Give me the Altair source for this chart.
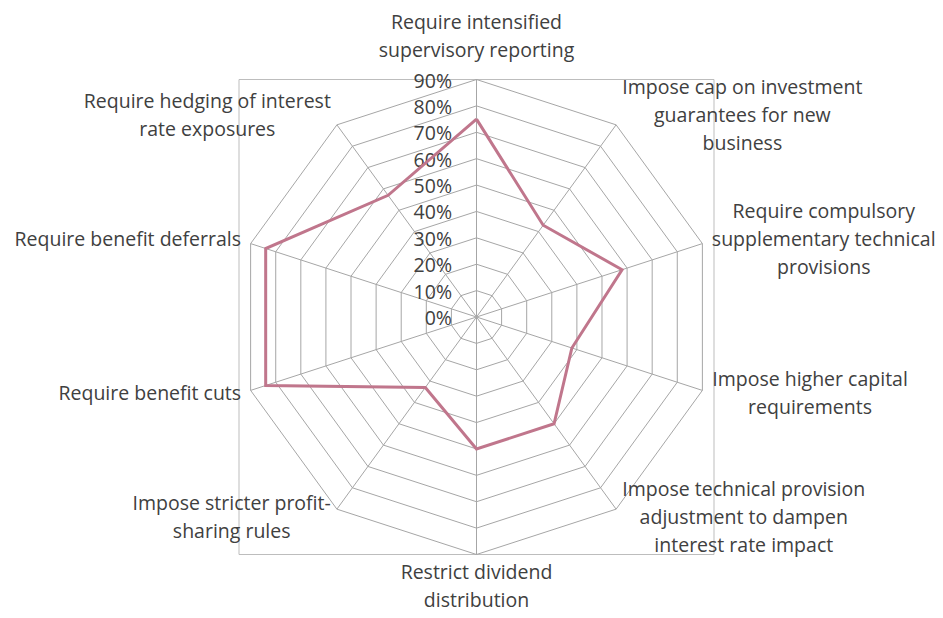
import altair as alt
import pandas as pd

# ---- data ----
categories = [
    "Require intensified\nsupervisory reporting",
    "Impose cap on investment\nguarantees for new\nbusiness",
    "Require compulsory\nsupplementary technical\nprovisions",
    "Impose higher capital\nrequirements",
    "Impose technical provision\nadjustment to dampen\ninterest rate impact",
    "Restrict dividend\ndistribution",
    "Impose stricter profit-\nsharing rules",
    "Require benefit cuts",
    "Require benefit deferrals",
    "Require hedging of interest\nrate exposures",
]
values = [75, 43, 58, 38, 50, 50, 33, 84, 84, 57]
ticks = [0, 10, 20, 30, 40, 50, 60, 70, 80, 90]
tick_labels = ["0%", "10%", "20%", "30%", "40%", "50%", "60%", "70%", "80%", "90%"]

# ---- layout ----
N = len(categories)
RMAX = max(ticks)
W, H = 927, 602
PX = 237.5 / RMAX              # pixels per percentage point
CX, CY = 468.5, 309.0          # centre inside the plot area
XDOM = [-CX / PX, (W - CX) / PX]
YDOM = [-(H - CY) / PX, CY / PX]
FONT = "Open Sans"
LAB_SIZE = 19.5
TICK_SIZE = 19.5
LINE_H = 28
TXT = "#404040"
GRID = "#a6a6a6"
SERIES = "#c0768c"

# approximate Open Sans advance widths (em) used to centre wrapped labels
EM = {
    " ": 0.26, "-": 0.322, "a": 0.556, "b": 0.613, "c": 0.476, "d": 0.613,
    "e": 0.561, "f": 0.339, "g": 0.548, "h": 0.614, "i": 0.253, "j": 0.253,
    "k": 0.525, "l": 0.253, "m": 0.930, "n": 0.614, "o": 0.604, "p": 0.613,
    "q": 0.613, "r": 0.408, "s": 0.477, "t": 0.353, "u": 0.614, "v": 0.501,
    "w": 0.778, "x": 0.524, "y": 0.502, "z": 0.477, "I": 0.303, "R": 0.623,
}


def text_px(s):
    return sum(EM.get(ch, 0.55) for ch in s) * LAB_SIZE


xs = alt.Scale(domain=XDOM, nice=False, zero=False)
ys = alt.Scale(domain=YDOM, nice=False, zero=False)

theta_expr = f"datum.idx * 2 * PI / {N}"

# rings
ring_rows = []
for k in ticks[1:]:
    for j in range(N + 1):
        ring_rows.append({"ring": k, "idx": j % N, "seq": j, "r": k})
rings = (
    alt.Chart(pd.DataFrame(ring_rows))
    .transform_calculate(th=theta_expr)
    .transform_calculate(px="datum.r * sin(datum.th)", py="datum.r * cos(datum.th)")
    .mark_line(color=GRID, strokeWidth=1)
    .encode(
        x=alt.X("px:Q", scale=xs, axis=None),
        y=alt.Y("py:Q", scale=ys, axis=None),
        detail="ring:N",
        order="seq:Q",
    )
)

# spokes
spokes = (
    alt.Chart(pd.DataFrame({"idx": list(range(N)), "r": [RMAX] * N}))
    .transform_calculate(th=theta_expr)
    .transform_calculate(
        px="datum.r * sin(datum.th)", py="datum.r * cos(datum.th)", zx="0", zy="0"
    )
    .mark_rule(color=GRID, strokeWidth=1)
    .encode(
        x=alt.X("zx:Q", scale=xs, axis=None),
        y=alt.Y("zy:Q", scale=ys, axis=None),
        x2="px:Q",
        y2="py:Q",
    )
)

# plot-area border
border = (
    alt.Chart(pd.DataFrame({"a": [0]}))
    .mark_rect(filled=False, stroke="#bdbdbd", strokeWidth=1)
    .encode(
        x=alt.X(datum=-RMAX, scale=xs, axis=None),
        x2=alt.X2(datum=RMAX),
        y=alt.Y(datum=-RMAX, scale=ys, axis=None),
        y2=alt.Y2(datum=RMAX),
    )
)

# radial tick labels
tick_text = (
    alt.Chart(pd.DataFrame({"r": ticks, "lab": tick_labels}))
    .transform_calculate(tx=str(-24.5 / PX), ty="datum.r + " + str(-2.0 / PX))
    .mark_text(align="right", baseline="middle", font=FONT, fontSize=TICK_SIZE, color=TXT)
    .encode(
        x=alt.X("tx:Q", scale=xs, axis=None),
        y=alt.Y("ty:Q", scale=ys, axis=None),
        text="lab:N",
    )
)

# series
ser_rows = [{"idx": j % N, "seq": j, "v": values[j % N]} for j in range(N + 1)]
series = (
    alt.Chart(pd.DataFrame(ser_rows))
    .transform_calculate(th=theta_expr)
    .transform_calculate(px="datum.v * sin(datum.th)", py="datum.v * cos(datum.th)")
    .mark_line(color=SERIES, strokeWidth=3, strokeJoin="miter")
    .encode(
        x=alt.X("px:Q", scale=xs, axis=None),
        y=alt.Y("py:Q", scale=ys, axis=None),
        order="seq:Q",
    )
)

# category labels
hw = [max(text_px(s) for s in c.split("\n")) / 2 / PX for c in categories]
nl = [len(c.split("\n")) for c in categories]
lab_df = pd.DataFrame({"idx": list(range(N)), "label": categories, "hw": hw, "nl": nl})
pad = 10 / PX
half_line = LINE_H / 2 / PX
cat_text = (
    alt.Chart(lab_df)
    .transform_calculate(th=theta_expr)
    .transform_calculate(s="sin(datum.th)", c="cos(datum.th)")
    .transform_calculate(
        side="abs(datum.s) < 0.1 ? 0 : (datum.s > 0 ? 1 : -1)",
        off="datum.c > 0.95 ? 16 : (datum.c < -0.95 ? 12.4 : 4)",
    )
    .transform_calculate(
        lx=f"({RMAX} + {pad}) * datum.s + datum.side * datum.hw",
        ly=f"({RMAX} + datum.off) * datum.c + (datum.nl - 1) * {half_line}",
    )
    .mark_text(
        align="center", baseline="middle", font=FONT, fontSize=LAB_SIZE,
        color=TXT, lineBreak="\n", lineHeight=LINE_H,
    )
    .encode(
        x=alt.X("lx:Q", scale=xs, axis=None),
        y=alt.Y("ly:Q", scale=ys, axis=None),
        text="label:N",
    )
)

chart = (
    alt.layer(border, rings, spokes, tick_text, series, cat_text)
    .properties(width=W, height=H, padding=0, autosize="none", background="white")
    .configure_view(stroke=None)
)

chart.save("out.html", embed_options={"renderer": "svg", "actions": False})
